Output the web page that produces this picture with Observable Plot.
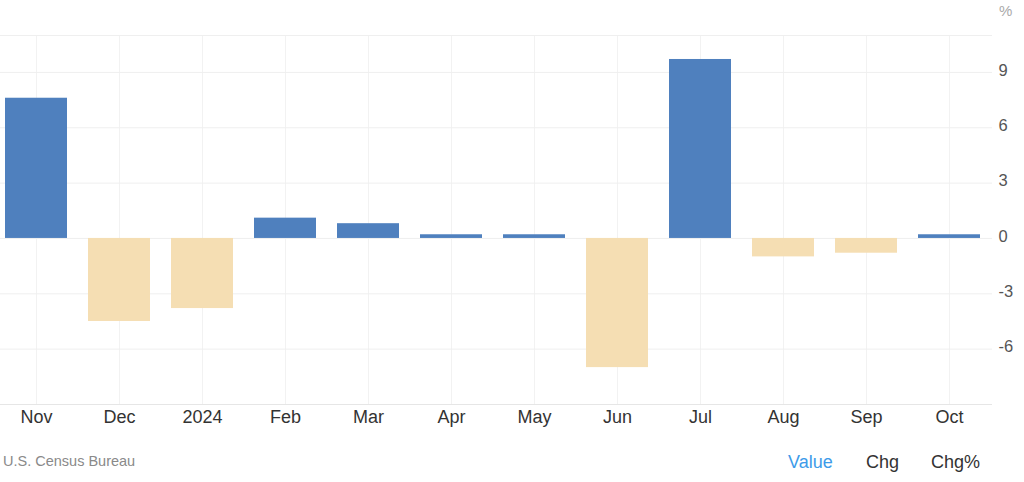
<!DOCTYPE html>
<html>
<head>
<meta charset="utf-8">
<script src="https://cdn.jsdelivr.net/npm/d3@7"></script>
<script src="https://cdn.jsdelivr.net/npm/@observablehq/plot@0.6"></script>
<style>
  html, body { margin: 0; padding: 0; background: #fff; }
  body { width: 1024px; height: 482px; position: relative; overflow: hidden; font-family: "Liberation Sans", Arial, sans-serif; }
  #chart { position: absolute; left: 0; top: 0; }
  .unit { position: absolute; left: 999px; top: 2px; font-size: 15px; color: #aaa; line-height: normal; }
  .source { position: absolute; left: 3px; top: 453px; font-size: 14.5px; color: #8a8a8a; line-height: normal; }
  .tabs { position: absolute; top: 452px; font-size: 18px; color: #333; line-height: normal; }
</style>
</head>
<body>
<div id="chart"></div>
<div class="unit">%</div>
<div class="source">U.S. Census Bureau</div>
<div class="tabs" style="left:788px;color:#3d9be9">Value</div>
<div class="tabs" style="left:866px">Chg</div>
<div class="tabs" style="left:931px">Chg%</div>
<script>
const months = ["Nov", "Dec", "2024", "Feb", "Mar", "Apr", "May", "Jun", "Jul", "Aug", "Sep", "Oct"];
const values = [7.6, -4.5, -3.8, 1.1, 0.8, 0.2, 0.2, -7.0, 9.7, -1.0, -0.8, 0.2];
const yTicks = [-6, -3, 0, 3, 6, 9];
const yDomain = [-9, 11];

const data = months.map((m, i) => ({month: m, value: values[i]}));

const chart = Plot.plot({
  width: 1024,
  height: 440,
  marginTop: 35,
  marginBottom: 36,
  marginLeft: 0,
  marginRight: 32,
  style: {fontFamily: "'Liberation Sans', Arial, sans-serif", background: "#fff"},
  x: {domain: months, range: [-5.5, 991.5], paddingInner: 0.25, paddingOuter: 0.125, label: null},
  y: {domain: yDomain, label: null},
  marks: [
    Plot.ruleX(months, {x: d => d, y1: yDomain[0], y2: yDomain[1], stroke: "#f2f2f2", strokeWidth: 1}),
    Plot.ruleY([...yTicks, yDomain[1]], {stroke: "#efefef", strokeWidth: 1}),
    Plot.ruleY([yDomain[0]], {stroke: "#e6e6e6", strokeWidth: 1}),
    Plot.ruleX([yDomain[0]], {x: () => 991.5, y1: yDomain[0], y2: yDomain[1], stroke: "#eeeeee"}),
    Plot.barY(data, {x: "month", y: "value", fill: d => d.value >= 0 ? "#4f80be" : "#f5deb3"}),
    Plot.axisY(yTicks, {anchor: "right", tickSize: 0, tickPadding: 6, fontSize: 16.5, color: "#555", dy: -2, tickFormat: d => String(d).replace("−", "-")}),
    Plot.axisX({anchor: "bottom", tickSize: 0, tickPadding: 6, fontSize: 18, color: "#333"})
  ]
});
document.getElementById("chart").append(chart);
</script>
</body>
</html>
